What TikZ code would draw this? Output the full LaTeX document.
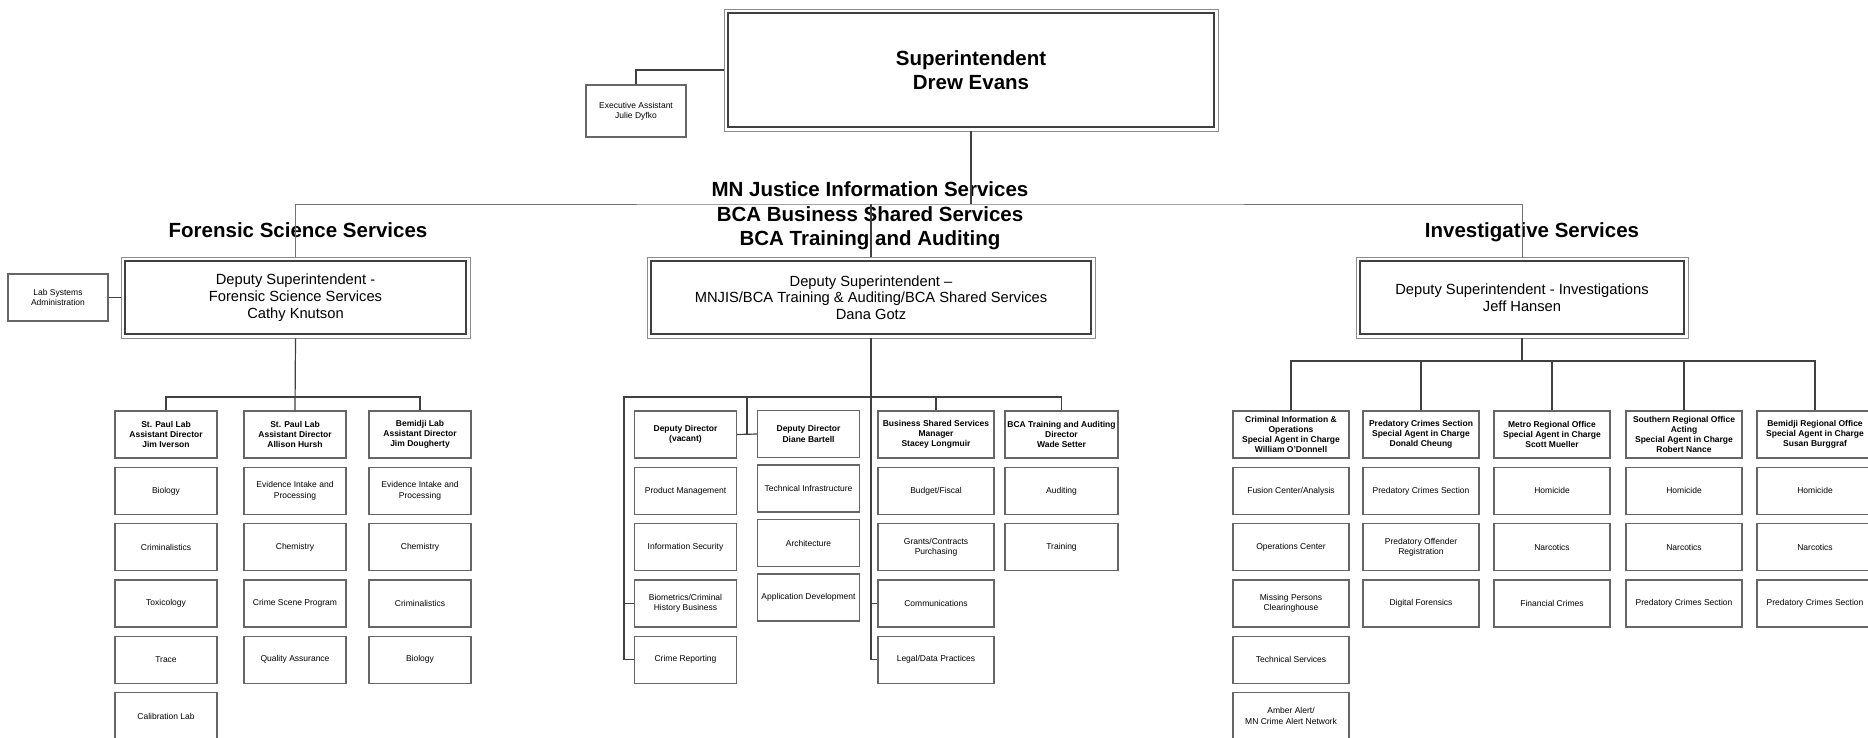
\documentclass[tikz,border=0pt]{standalone}
\usepackage{fontspec}
\setmainfont{Liberation Sans}
\usetikzlibrary{positioning}

\begin{document}
\begin{tikzpicture}[x=1pt,y=-1pt]
					%\draw[help lines] (0,0) grid[step=100] (1868,737);
					\tikzset{
					unit/.style 	= {draw=black!60, line width=1.2pt, fill=white, align=center,
						minimum width=102pt, minimum height=47pt, inner sep=1pt,
						font=\fontsize{8.5}{10.3}\selectfont},
					head/.style 	= {unit, font=\bfseries\fontsize{8.5}{10.3}\selectfont},
					double box/.style = {draw=black!45, line width=0.8pt, fill=white, align=center,
						path picture={\draw[black!75, line width=2pt]
							([shift={(4pt,4pt)}]path picture bounding box.south west) rectangle
							([shift={(-4pt,-4pt)}]path picture bounding box.north east);}},
					deputy/.style 	= {double box, minimum height=81pt, font=\fontsize{14.7}{16.7}\selectfont},
					title/.style 	= {align=center, font=\bfseries\fontsize{20.5}{24.3}\selectfont},
					link/.style 	= {draw=black!75, line width=1.2pt},
					thin link/.style = {draw=black!55, line width=1pt}}
					
					\fill[white] (0,0) rectangle (1868,737);
					\useasboundingbox (0,0) rectangle (1868,737);
					\clip (0,0) rectangle (1868,737);
					
					\node[double box, minimum width=494pt, minimum height=122pt,
						font=\bfseries\fontsize{20.5}{24.5}\selectfont] (sup) at (971,70) {Superintendent\\Drew Evans};
					\node[unit, minimum width=100pt, minimum height=52pt] (exec) at (636,111) {Executive Assistant\\Julie Dyfko};
					\draw[link] (exec.north) |- (sup.west);
					
					\node[title] (forTitle) at (298,230) {Forensic Science Services};
					\node[title] (midTitle) at (870,216) {MN Justice Information Services\\BCA Business Shared Services\\BCA Training and Auditing};
					\node[title] (invTitle) at (1532,232) {Investigative Services};
					
					\node[deputy, minimum width=349pt] (depFor) at (295.5,297.5) {Deputy Superintendent -\\Forensic Science Services\\Cathy Knutson};
					\node[deputy, minimum width=448pt] (depMid) at (871,297.5) {Deputy Superintendent –\\MNJIS/BCA Training \& Auditing/BCA Shared Services\\Dana Gotz};
					\node[deputy, minimum width=332pt] (depInv) at (1522,297.5) {Deputy Superintendent - Investigations\\Jeff Hansen};
					\node[unit, minimum width=100pt] (labSys) at (58,297.5) {Lab Systems\\Administration};
					
					\coordinate (topBus) at (971,204);
					\draw[link] (sup.south) -- (topBus);
					\draw[thin link] (depFor.north) |- (topBus) -| (depInv.north);
					\draw[link] (depMid.north) -- (depMid.north |- topBus);
					\draw[link] (labSys) -- (depFor);
					
					% forensic
					\node[head] (f1-0) at (166,434.5) {St. Paul Lab\\Assistant Director\\Jim Iverson};
					\foreach \t [count=\i] in {Biology,Criminalistics,Toxicology,Trace,Calibration Lab}
						\node[unit] (f1-\i) at (166,434.5+56.3*\i) {\t};
					\node[head] (f2-0) at (295,434.5) {St. Paul Lab\\Assistant Director\\Allison Hursh};
					\foreach \t [count=\i] in {{Evidence Intake and\\Processing},Chemistry,Crime Scene Program,Quality Assurance}
						\node[unit] (f2-\i) at (295,434.5+56.3*\i) {\t};
					\node[head] (f3-0) at (420,434.5) {Bemidji Lab\\Assistant Director\\Jim Dougherty};
					\foreach \t [count=\i] in {{Evidence Intake and\\Processing},Chemistry,Criminalistics,Biology}
						\node[unit] (f3-\i) at (420,434.5+56.3*\i) {\t};
					\coordinate (forBus) at (295,397);
					\draw[link] (depFor.south) -- (f2-0.north);
					\draw[link] (f1-0.north) |- (forBus) -| (f3-0.north);
					
					% shared services
					\node[head] (ma-0) at (685.5,434.5) {Deputy Director\\(vacant)};
					\foreach \t [count=\i] in {Product Management,Information Security,{Biometrics/Criminal\\History Business},Crime Reporting}
						\node[unit] (ma-\i) at (685.5,434.5+56.3*\i) {\t};
					\node[head] (mb-0) at (808.5,434) {Deputy Director\\Diane Bartell};
					\foreach \t [count=\i] in {Technical Infrastructure,Architecture,Application Development}
						\node[unit] (mb-\i) at (808.5,434+54.5*\i) {\t};
					\node[head, minimum width=116pt] (mc-0) at (936,434.5) {Business Shared Services\\Manager\\Stacey Longmuir};
					\foreach \t [count=\i] in {Budget/Fiscal,{Grants/Contracts\\Purchasing},Communications,Legal/Data Practices}
						\node[unit, minimum width=116pt] (mc-\i) at (936,434.5+56.3*\i) {\t};
					\node[head, minimum width=113pt] (md-0) at (1061.5,434.5) {BCA Training and Auditing\\Director\\Wade Setter};
					\foreach \t [count=\i] in {Auditing,Training}
						\node[unit, minimum width=113pt] (md-\i) at (1061.5,434.5+56.3*\i) {\t};
					\coordinate (midBus) at (624,397);
					\coordinate (midFork) at (747,397);
					\draw[link] (ma-4.west) -| (midBus) -| (md-0.north);
					\draw[link] (ma-3.west) -- (ma-3.west -| midBus);
					\draw[link] (mc-0.north) -- (mc-0.north |- midBus);
					\draw[link] (midFork) -- (midFork |- ma-0.east);
					\draw[link] (ma-0.east) -- (mb-0.west);
					\draw[link] (depMid.south) -- (depMid.south |- mc-4.west);
					\foreach \k in {3,4}
						\draw[link] (mc-\k.west) -- (mc-\k.west -| depMid.south);
					
					% investigations
					\node[head, minimum width=116pt] (i1-0) at (1291,434.5) {Criminal Information \&\\Operations\\Special Agent in Charge\\William O'Donnell};
					\foreach \t [count=\i] in {Fusion Center/Analysis,Operations Center,{Missing Persons\\Clearinghouse},Technical Services,{Amber Alert/\\MN Crime Alert Network}}
						\node[unit, minimum width=116pt] (i1-\i) at (1291,434.5+56.3*\i) {\t};
					\node[head, minimum width=116pt] (i2-0) at (1421,434.5) {Predatory Crimes Section\\Special Agent in Charge\\Donald Cheung};
					\foreach \t [count=\i] in {Predatory Crimes Section,{Predatory Offender\\Registration},Digital Forensics}
						\node[unit, minimum width=116pt] (i2-\i) at (1421,434.5+56.3*\i) {\t};
					\node[head, minimum width=116pt] (i3-0) at (1552,434.5) {Metro Regional Office\\Special Agent in Charge\\Scott Mueller};
					\foreach \t [count=\i] in {Homicide,Narcotics,Financial Crimes}
						\node[unit, minimum width=116pt] (i3-\i) at (1552,434.5+56.3*\i) {\t};
					\node[head, minimum width=116pt] (i4-0) at (1684,434.5) {Southern Regional Office\\Acting\\Special Agent in Charge\\Robert Nance};
					\foreach \t [count=\i] in {Homicide,Narcotics,Predatory Crimes Section}
						\node[unit, minimum width=116pt] (i4-\i) at (1684,434.5+56.3*\i) {\t};
					\node[head, minimum width=116pt] (i5-0) at (1815,434.5) {Bemidji Regional Office\\Special Agent in Charge\\Susan Burggraf};
					\foreach \t [count=\i] in {Homicide,Narcotics,Predatory Crimes Section}
						\node[unit, minimum width=116pt] (i5-\i) at (1815,434.5+56.3*\i) {\t};
					\coordinate (invBus) at (1522,361);
					\draw[link] (depInv.south) -- (invBus);
					\draw[link] (i1-0.north) |- (invBus) -| (i5-0.north);
					\foreach \c in {2,3,4}
						\draw[link] (i\c-0.north) -- (i\c-0.north |- invBus);
					
					\foreach \c/\n in {f1/5,f2/4,f3/4,ma/2,mb/3,mc/2,md/2,i1/5,i2/3,i3/3,i4/3,i5/3}
						\foreach \i [evaluate=\i as \j using int(\i-1)] in {1,...,\n}
							\draw[link] (\c-\j) -- (\c-\i);
				\end{tikzpicture}
\end{document}
